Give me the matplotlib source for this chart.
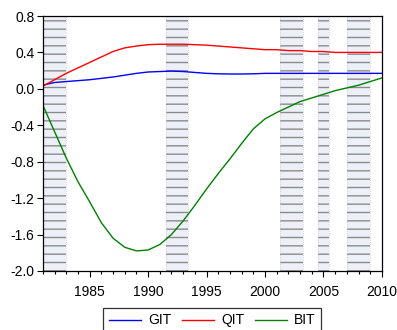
import matplotlib
matplotlib.use("Agg")
import matplotlib.pyplot as plt
from matplotlib.ticker import MultipleLocator

plt.rcParams['font.family'] = ['Liberation Sans', 'DejaVu Sans']
plt.rcParams['hatch.linewidth'] = 1.0

years = list(range(1981, 2011))

git = [0.04, 0.07, 0.08, 0.09, 0.10, 0.115, 0.13, 0.15, 0.17, 0.185,
       0.19, 0.195, 0.19, 0.18, 0.17, 0.165, 0.163, 0.163, 0.165, 0.17,
       0.17, 0.17, 0.17, 0.17, 0.17, 0.17, 0.17, 0.17, 0.17, 0.17]

qit = [0.03, 0.10, 0.17, 0.23, 0.29, 0.35, 0.41, 0.45, 0.47, 0.485,
       0.49, 0.49, 0.49, 0.485, 0.48, 0.47, 0.46, 0.45, 0.44, 0.43,
       0.43, 0.42, 0.42, 0.41, 0.41, 0.40, 0.40, 0.40, 0.40, 0.40]

bit = [-0.18, -0.47, -0.76, -1.02, -1.24, -1.47, -1.64, -1.74, -1.78, -1.77,
       -1.71, -1.60, -1.45, -1.28, -1.10, -0.93, -0.77, -0.60, -0.44, -0.33,
       -0.26, -0.20, -0.14, -0.10, -0.06, -0.02, 0.01, 0.04, 0.08, 0.12]

# shaded periods (start, end)
shade_start = [1981.0, 1991.5, 2001.25, 2004.5, 2007.0]
shade_end = [1983.0, 1993.4, 2003.25, 2005.5, 2009.0]

fig = plt.figure(figsize=(3.97, 3.30), dpi=100)
ax = fig.add_axes([0.108, 0.179, 0.854, 0.7725])

for s, e in zip(shade_start, shade_end):
    ax.axvspan(s, e, facecolor='#eef0f9', edgecolor='#8a8a8a',
               hatch='--', linewidth=0, zorder=0)
    ax.axvline(s, color='#c8c8c8', lw=0.6, ls=':', zorder=0)
    ax.axvline(e, color='#c8c8c8', lw=0.6, ls=':', zorder=0)

ax.plot(years, git, color='#0000ff', lw=1.0, label='GIT')
ax.plot(years, qit, color='#ff0000', lw=1.0, label='QIT')
ax.plot(years, bit, color='#008000', lw=1.0, label='BIT')

ax.set_xlim(1981, 2010)
ax.set_ylim(-2.0, 0.8)
ax.set_xticks([1985, 1990, 1995, 2000, 2005, 2010])
ax.xaxis.set_minor_locator(MultipleLocator(1))
ax.set_yticks([0.8, 0.4, 0.0, -0.4, -0.8, -1.2, -1.6, -2.0])
ax.set_yticklabels(['0.8', '0.4', '0.0', '-0.4', '-0.8', '-1.2', '-1.6', '-2.0'])
ax.tick_params(axis='both', which='major', direction='out', length=4,
               width=0.8, labelsize=10, pad=2)
ax.tick_params(axis='x', which='minor', direction='out', length=2, width=0.8)
ax.tick_params(axis='x', which='major', pad=6)
for sp in ax.spines.values():
    sp.set_linewidth(0.9)
    sp.set_color('black')

leg = ax.legend(loc='upper center', bbox_to_anchor=(0.5, -0.145), ncol=3,
                frameon=True, fancybox=False, fontsize=10, handlelength=2.3,
                columnspacing=0.8, handletextpad=0.5, borderpad=0.4,
                borderaxespad=0)
leg.get_frame().set_edgecolor('black')
leg.get_frame().set_linewidth(0.9)

fig.savefig('out.png', dpi=100)
